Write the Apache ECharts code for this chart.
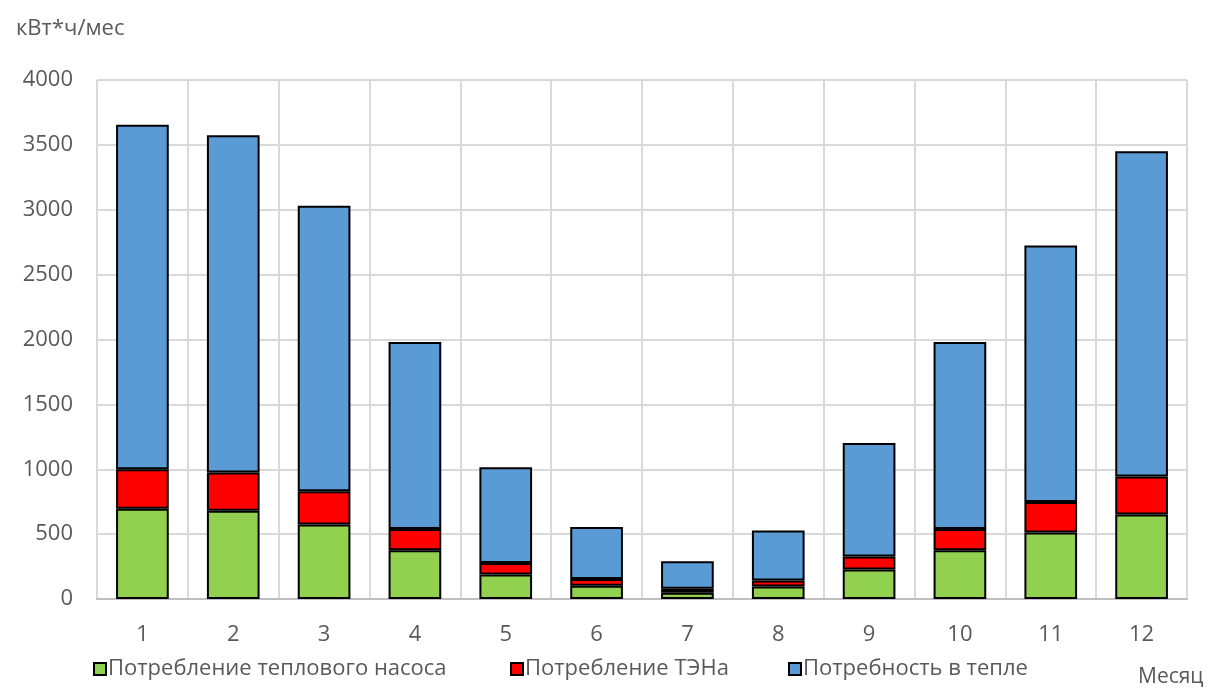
<!DOCTYPE html>
<html>
<head>
<meta charset="utf-8">
<script src="https://cdn.jsdelivr.net/npm/echarts@6/dist/echarts.min.js"></script>
<style>
  html, body { margin: 0; padding: 0; background: #fff; }
  #chart { width: 1210px; height: 692px; }
</style>
</head>
<body>
<div id="chart"></div>
<script>
// Months of the year
const months = ['1', '2', '3', '4', '5', '6', '7', '8', '9', '10', '11', '12'];

// Monthly energy, kWh per month (stacked)
const heatPump = [695, 680, 575, 375, 188, 102, 48, 97, 228, 375, 513, 652];
const heater   = [305, 295, 255, 165, 89, 52, 31, 46, 100, 165, 234, 292];
const demand   = [2655, 2600, 2200, 1440, 738, 401, 211, 385, 874, 1440, 1978, 2506];

const seriesNames = ['Потребление теплового насоса', 'Потребление ТЭНа', 'Потребность в тепле'];
const seriesColors = ['#92d050', '#ff0000', '#5b9bd5'];

const FONT = '"Open Sans", "Noto Sans", sans-serif';
const chart = echarts.init(document.getElementById('chart'));

function legendAt(i, left) {
  return {
    data: [seriesNames[i]],
    left: left,
    top: 658,
    icon: 'rect',
    itemWidth: 12,
    itemHeight: 12,
    itemGap: 6,
    padding: 0,
    selectedMode: false,
    textStyle: { color: '#595959', fontSize: 22, fontFamily: FONT, padding: [0, 0, 0, -3] },
    itemStyle: { borderColor: '#000', borderWidth: 2 }
  };
}

chart.setOption({
  animation: false,
  backgroundColor: '#fff',
  textStyle: { fontFamily: FONT },
  grid: { left: 97, right: 23, top: 80, bottom: 93, containLabel: false },
  title: [
    { text: 'кВт*ч/мес', left: 11, top: 13, textStyle: { color: '#595959', fontSize: 22, fontWeight: 'normal', fontFamily: FONT } },
    { text: 'Месяц', left: 1133, top: 662, textStyle: { color: '#595959', fontSize: 21, fontWeight: 'normal', fontFamily: FONT } }
  ],
  legend: [legendAt(0, 93), legendAt(1, 510), legendAt(2, 788)],
  xAxis: {
    type: 'category',
    data: months,
    boundaryGap: true,
    axisLine: { show: true, lineStyle: { color: '#bfbfbf', width: 2 } },
    axisTick: { show: false },
    splitLine: { show: true, lineStyle: { color: '#d9d9d9', width: 2 } },
    axisLabel: { color: '#595959', fontSize: 22, margin: 25, fontFamily: FONT }
  },
  yAxis: {
    type: 'value',
    min: 0,
    max: 4000,
    interval: 500,
    axisLine: { show: false },
    axisTick: { show: false },
    splitLine: { show: true, lineStyle: { color: '#d9d9d9', width: 2 } },
    axisLabel: { color: '#595959', fontSize: 22, margin: 24, fontFamily: FONT, formatter: v => String(v) }
  },
  series: [heatPump, heater, demand].map((d, i) => ({
    name: seriesNames[i],
    type: 'bar',
    stack: 'total',
    data: d,
    barCategoryGap: '42%',
    itemStyle: { color: seriesColors[i], borderColor: '#000', borderWidth: 2 }
  }))
});
</script>
</body>
</html>
